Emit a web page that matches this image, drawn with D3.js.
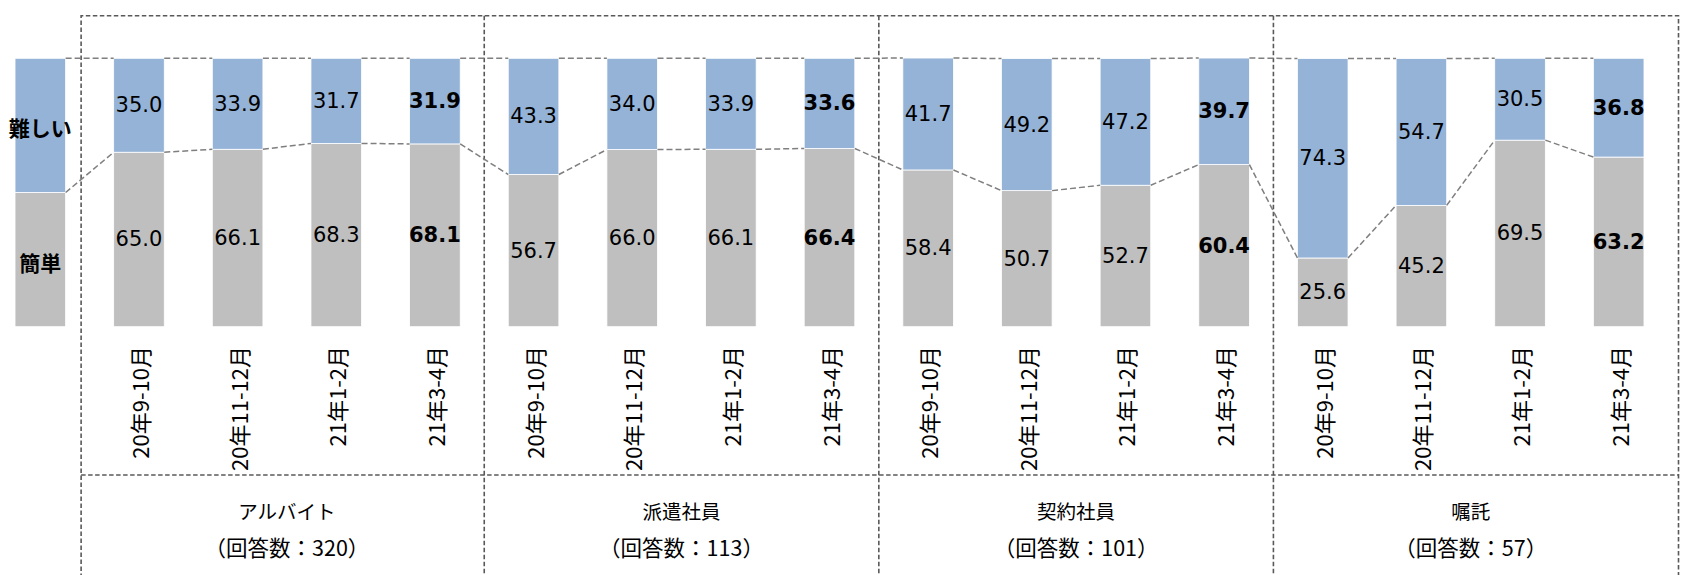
<!DOCTYPE html>
<html>
<head>
<meta charset="utf-8">
<script src="https://cdn.jsdelivr.net/npm/d3@7"></script>
<style>
  html, body { margin: 0; padding: 0; background: #fff; }
  svg { display: block; }
</style>
</head>
<body>
<svg id="chart" width="1687" height="575"></svg>
<script>
// Survey periods (x categories inside each group)
const periods = ["20年9-10月", "20年11-12月", "21年1-2月", "21年3-4月"];
// Employment types and their respondent counts
const groups = ["アルバイト", "派遣社員", "契約社員", "嘱託"];
const respondents = [320, 113, 101, 57];
// Share answering "easy" (簡単), per group and period
const easyValues = [
  [65.0, 66.1, 68.3, 68.1],
  [56.7, 66.0, 66.1, 66.4],
  [58.4, 50.7, 52.7, 60.4],
  [25.6, 45.2, 69.5, 63.2]
];
// Share answering "hard" (難しい), per group and period
const hardValues = [
  [35.0, 33.9, 31.7, 31.9],
  [43.3, 34.0, 33.9, 33.6],
  [41.7, 49.2, 47.2, 39.7],
  [74.3, 54.7, 30.5, 36.8]
];
// Legend column drawn as a half/half bar at the left
const legendNames = ["簡単", "難しい"];
const legendValues = [50, 50];

const W = 1687, H = 575;
const colors = { easy: "#BFBFBF", hard: "#95B3D7" };
const numFont = "'DejaVu Sans', Verdana, sans-serif";
const jpFont = "'Noto Sans CJK JP', 'Noto Sans', sans-serif";

// Flat table: legend column followed by each group's periods
const rows = [{ key: "legend", easy: legendValues[0], hard: legendValues[1], legend: true }];
groups.forEach((g, gi) => {
  periods.forEach((p, pi) => {
    rows.push({
      key: g + "|" + p, group: g, gi, period: p, pi,
      easy: easyValues[gi][pi], hard: hardValues[gi][pi],
      last: pi === periods.length - 1
    });
  });
});

const svg = d3.select("#chart");

const x = d3.scaleBand()
  .domain(rows.map(d => d.key))
  .range([-9, 1668])
  .paddingInner(0.487)
  .paddingOuter(0.2435);
const bw = x.bandwidth();
const step = x.step();

const y = d3.scaleLinear().domain([0, 100]).range([326.7, 58.3]);

const stack = d3.stack().keys(["easy", "hard"]);
const series = stack(rows);

// Frame around the groups (dashed)
const frame = svg.append("g")
  .attr("fill", "none")
  .attr("stroke", "#595959")
  .attr("stroke-width", 1.6)
  .attr("stroke-dasharray", "4.5,2.5");

const firstKey = rows[1].key, lastKey = rows[rows.length - 1].key;
const frameLeft = x(firstKey) - step * 0.33;
const frameRight = x(lastKey) + bw + step * 0.35;
const frameTop = 15.7, divY = 475, frameBottom = H + 10;

frame.append("path").attr("d",
  `M${frameLeft},${frameBottom}V${frameTop}H${frameRight}V${frameBottom}`);
frame.append("line")
  .attr("x1", frameLeft).attr("x2", frameRight)
  .attr("y1", divY).attr("y2", divY);

// Dividers between groups
const groupBounds = groups.map((g, gi) => {
  const first = x(g + "|" + periods[0]);
  const last = x(g + "|" + periods[periods.length - 1]) + bw;
  return { g, gi, first, last, center: (first + last) / 2 };
});
groupBounds.slice(0, -1).forEach((b, i) => {
  const next = groupBounds[i + 1];
  const mx = (b.last + next.first) / 2;
  frame.append("line")
    .attr("x1", mx).attr("x2", mx)
    .attr("y1", frameTop).attr("y2", frameBottom);
});

// Stacked bars
svg.append("g")
  .selectAll("g")
  .data(series)
  .join("g")
  .attr("fill", s => colors[s.key])
  .selectAll("rect")
  .data(s => s)
  .join("rect")
  .attr("x", d => x(d.data.key))
  .attr("width", bw)
  .attr("y", d => y(d[1]))
  .attr("height", d => y(d[0]) - y(d[1]))
  .attr("stroke", "#ffffff")
  .attr("stroke-width", 0.8);

// Series lines joining segment tops of neighbouring bars
const seriesLines = svg.append("g")
  .attr("fill", "none")
  .attr("stroke", "#7F7F7F")
  .attr("stroke-width", 1.5)
  .attr("stroke-dasharray", "6,3");
series.forEach(s => {
  for (let i = 0; i < s.length - 1; i++) {
    const a = s[i], b = s[i + 1];
    seriesLines.append("line")
      .attr("x1", x(a.data.key) + bw).attr("y1", y(a[1]))
      .attr("x2", x(b.data.key)).attr("y2", y(b[1]));
  }
});

// Value labels inside segments
const labels = svg.append("g")
  .attr("font-family", numFont)
  .attr("font-size", 21)
  .attr("fill", "#000")
  .attr("text-anchor", "middle")
  .attr("dominant-baseline", "central");
series.forEach(s => {
  labels.selectAll(null)
    .data(s.filter(d => !d.data.legend))
    .join("text")
    .attr("x", d => x(d.data.key) + bw / 2)
    .attr("y", d => (y(d[0]) + y(d[1])) / 2)
    .attr("font-weight", d => d.data.last ? "bold" : "normal")
    .text(d => d.data[s.key].toFixed(1));
});

// Legend names inside the legend column
const legendRow = rows[0];
series.forEach((s, si) => {
  const d = s[0];
  svg.append("text")
    .attr("x", x(legendRow.key) + bw / 2)
    .attr("y", (y(d[0]) + y(d[1])) / 2 + 2)
    .attr("text-anchor", "middle")
    .attr("dominant-baseline", "central")
    .attr("font-family", jpFont)
    .attr("font-size", 21)
    .attr("font-weight", "bold")
    .attr("fill", "#000")
    .text(legendNames[si]);
});

// Rotated period labels
svg.append("g")
  .attr("font-family", jpFont)
  .attr("font-size", 22)
  .attr("fill", "#000")
  .selectAll("text")
  .data(rows.filter(d => !d.legend))
  .join("text")
  .attr("transform", d => `translate(${x(d.key) + bw / 2},346) rotate(-90)`)
  .attr("text-anchor", "end")
  .attr("dominant-baseline", "central")
  .text(d => d.period);

// Group names with respondent counts
const gl = svg.append("g")
  .attr("font-family", jpFont)
  .attr("fill", "#000")
  .attr("text-anchor", "middle")
  .attr("dominant-baseline", "central");
groupBounds.forEach(b => {
  gl.append("text").attr("x", b.center).attr("y", 510)
    .attr("font-size", 19.5).text(b.g);
  gl.append("text").attr("x", b.center).attr("y", 546)
    .attr("font-size", 21.5)
    .text(`（回答数：${respondents[b.gi]}）`);
});
</script>
</body>
</html>
